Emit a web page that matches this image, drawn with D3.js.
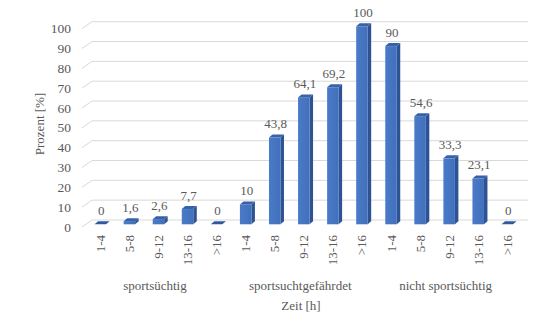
<!DOCTYPE html>
<html>
<head>
<meta charset="utf-8">
<script src="https://cdn.jsdelivr.net/npm/d3@7"></script>
<style>
  html, body { margin: 0; padding: 0; background: #fff; }
  svg { display: block; }
  text { font-family: "Liberation Serif", "Times New Roman", serif; fill: #595959; }
</style>
</head>
<body>
<svg id="chart" width="557" height="334"></svg>
<script>
// Hours-per-week classes, repeated for each group
const timeLabels = ["1-4", "5-8", "9-12", "13-16", ">16",
                    "1-4", "5-8", "9-12", "13-16", ">16",
                    "1-4", "5-8", "9-12", "13-16", ">16"];
const groups = ["sportsüchtig", "sportsuchtgefährdet", "nicht sportsüchtig"];
const percent = [0, 1.6, 2.6, 7.7, 0,
                 10, 43.8, 64.1, 69.2, 100,
                 90, 54.6, 33.3, 23.1, 0];
const valueLabels = ["0", "1,6", "2,6", "7,7", "0",
                     "10", "43,8", "64,1", "69,2", "100",
                     "90", "54,6", "33,3", "23,1", "0"];
const yTicks = [0, 10, 20, 30, 40, 50, 60, 70, 80, 90, 100];

const svg = d3.select("#chart");

// 3D geometry: back wall, floor depth and bar depth
const wallLeft = 92, wallRight = 528;
const floorDx = -10, floorDy = 7;
const barDx = 3.5, barDy = -3;
const barWidth = 11.5;

const yWall = d3.scaleLinear().domain([0, 100]).range([220, 21.7]);
const yBar = d3.scaleLinear().domain([0, 100]).range([224.3, 26.3]);
const x = d3.scaleBand()
  .domain(d3.range(percent.length))
  .range([85.8, 521.8])
  .padding(0);
const cx = i => x(i) + x.bandwidth() / 2;

// Gridlines on the back wall with slanted side-wall edge
const grid = svg.append("g");
yTicks.forEach(v => {
  const y = yWall(v);
  grid.append("line")
    .attr("x1", wallLeft).attr("x2", wallRight)
    .attr("y1", y).attr("y2", y)
    .attr("stroke", "#d9d9d9").attr("stroke-width", 1);
  grid.append("line")
    .attr("x1", wallLeft + floorDx).attr("y1", y + floorDy)
    .attr("x2", wallLeft).attr("y2", y)
    .attr("stroke", "#d9d9d9").attr("stroke-width", 1);
});

// Y axis labels
svg.append("g").selectAll("text")
  .data(yTicks)
  .join("text")
  .attr("x", 71)
  .attr("y", d => yWall(d) + floorDy)
  .attr("text-anchor", "end")
  .attr("dominant-baseline", "central")
  .attr("font-size", 13.5)
  .text(d => d);

svg.append("text")
  .attr("transform", "translate(39,124) rotate(-90)")
  .attr("text-anchor", "middle")
  .attr("dominant-baseline", "central")
  .attr("font-size", 13)
  .text("Prozent [%]");

// Gradient for bar fronts
const defs = svg.append("defs");
const grad = defs.append("linearGradient").attr("id", "front")
  .attr("x1", "0").attr("x2", "1").attr("y1", "0").attr("y2", "0");
grad.append("stop").attr("offset", "0%").attr("stop-color", "#4a7bc8");
grad.append("stop").attr("offset", "100%").attr("stop-color", "#416fbb");

// Bars
const bars = svg.append("g").selectAll("g")
  .data(percent)
  .join("g");

bars.each(function (v, i) {
  const g = d3.select(this);
  const x0 = cx(i) - barWidth / 2, x1 = cx(i) + barWidth / 2;
  const yb = yBar(0), yt = yBar(v);
  // side face
  g.append("path")
    .attr("d", `M${x1},${yt} L${x1 + barDx},${yt + barDy} L${x1 + barDx},${yb + barDy} L${x1},${yb} Z`)
    .attr("fill", "#2d5394");
  // front face
  if (v > 0) {
    g.append("rect")
      .attr("x", x0).attr("y", yt)
      .attr("width", barWidth).attr("height", yb - yt)
      .attr("fill", "url(#front)");
  }
  // top face
  g.append("path")
    .attr("d", `M${x0},${yt} L${x1},${yt} L${x1 + barDx},${yt + barDy} L${x0 + barDx},${yt + barDy} Z`)
    .attr("fill", v > 0 ? "#3761a8" : "#2f5a9e");
});

// Value labels
svg.append("g").selectAll("text")
  .data(percent)
  .join("text")
  .attr("x", (d, i) => cx(i) + 1)
  .attr("y", d => yBar(d) + barDy - 6.5)
  .attr("text-anchor", "middle")
  .attr("font-size", 13)
  .text((d, i) => valueLabels[i]);

// Category tick labels, rotated
svg.append("g").selectAll("text")
  .data(timeLabels)
  .join("text")
  .attr("transform", (d, i) => `translate(${cx(i)},235) rotate(-90)`)
  .attr("text-anchor", "end")
  .attr("dominant-baseline", "central")
  .attr("font-size", 13)
  .text(d => d);

// Group labels
svg.append("g").selectAll("text")
  .data(groups)
  .join("text")
  .attr("x", (d, g) => cx(g * 5 + 2) - 3.5)
  .attr("y", 290)
  .attr("text-anchor", "middle")
  .attr("font-size", 13)
  .text(d => d);

svg.append("text")
  .attr("x", 301).attr("y", 310)
  .attr("text-anchor", "middle")
  .attr("font-size", 13)
  .text("Zeit [h]");
</script>
</body>
</html>
